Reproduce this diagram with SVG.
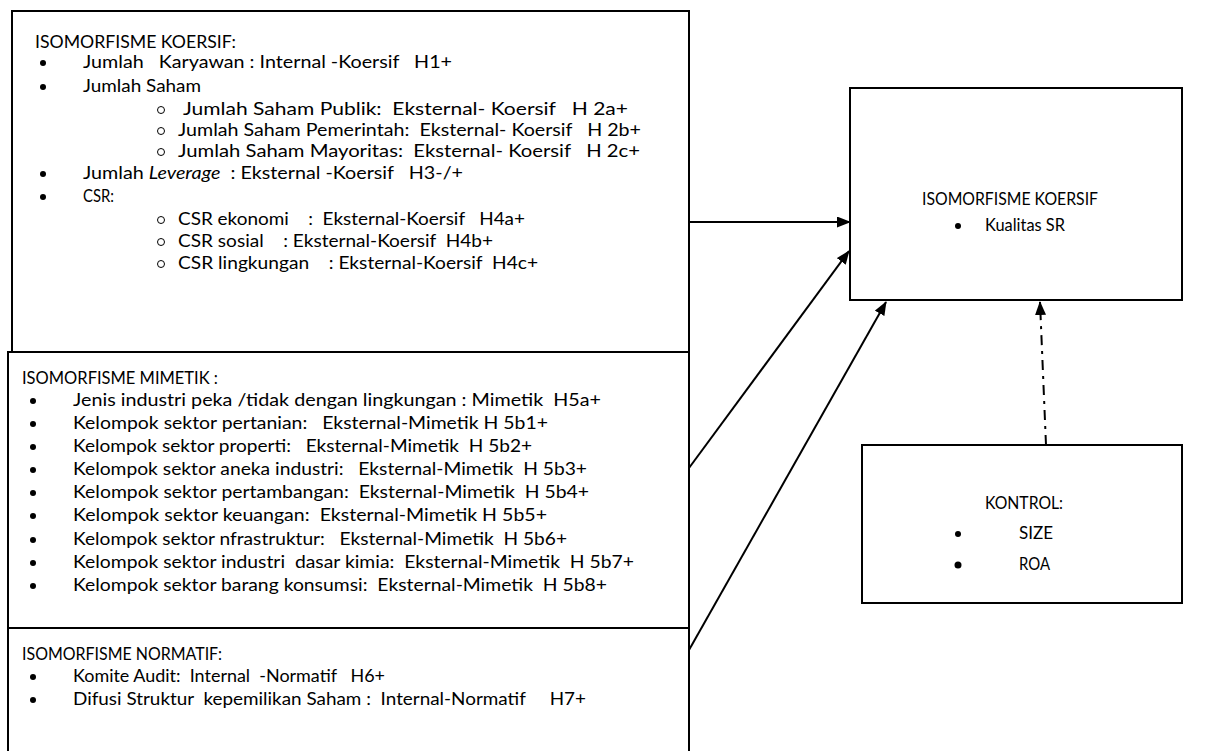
<svg xmlns="http://www.w3.org/2000/svg" width="1208" height="751" viewBox="0 0 1208 751">
<defs>
<style>
.box{fill:#fff;stroke:#000;stroke-width:2}
text{font-family:Lato,"Liberation Sans",sans-serif;font-size:17px;fill:#000;white-space:pre}
.dot{fill:#000}
.ring{fill:none;stroke:#000;stroke-width:1}
.con{stroke:#000;stroke-width:2;fill:none}
</style>
<marker id="ah" viewBox="0 0 14 11" refX="13" refY="5.5" markerWidth="14" markerHeight="11" markerUnits="userSpaceOnUse" orient="auto">
<path d="M0,0 L14,5.5 L0,11 z" fill="#000"/>
</marker>
</defs>
<g id="koersif">
<rect class="box" x="12" y="11" width="677" height="341"/>
<text x="35" y="48" textLength="201" lengthAdjust="spacingAndGlyphs">ISOMORFISME KOERSIF:</text>
<circle class="dot" cx="43" cy="63" r="3"/>
<text x="83" y="68" textLength="369" lengthAdjust="spacingAndGlyphs">Jumlah   Karyawan : Internal -Koersif   H1+</text>
<circle class="dot" cx="43" cy="87" r="3"/>
<text x="83" y="92" textLength="118" lengthAdjust="spacingAndGlyphs">Jumlah Saham</text>
<circle class="ring" cx="161" cy="110" r="3.5"/>
<text x="183" y="115" textLength="445" lengthAdjust="spacingAndGlyphs">Jumlah Saham Publik:  Eksternal- Koersif   H 2a+</text>
<circle class="ring" cx="161" cy="131" r="3.5"/>
<text x="178" y="136" textLength="463" lengthAdjust="spacingAndGlyphs">Jumlah Saham Pemerintah:  Eksternal- Koersif   H 2b+</text>
<circle class="ring" cx="161" cy="152" r="3.5"/>
<text x="178" y="157" textLength="462" lengthAdjust="spacingAndGlyphs">Jumlah Saham Mayoritas:  Eksternal- Koersif   H 2c+</text>
<circle class="dot" cx="43" cy="174" r="3"/>
<text x="83" y="179" textLength="380" lengthAdjust="spacingAndGlyphs">Jumlah <tspan font-style="italic">Leverage</tspan>  : Eksternal -Koersif   H3-/+</text>
<circle class="dot" cx="43" cy="197" r="3"/>
<text x="83" y="202" textLength="31" lengthAdjust="spacingAndGlyphs">CSR:</text>
<circle class="ring" cx="161" cy="220" r="3.5"/>
<text x="178" y="225" textLength="347" lengthAdjust="spacingAndGlyphs">CSR ekonomi    :  Eksternal-Koersif   H4a+</text>
<circle class="ring" cx="161" cy="242" r="3.5"/>
<text x="178" y="247" textLength="315" lengthAdjust="spacingAndGlyphs">CSR sosial    : Eksternal-Koersif  H4b+</text>
<circle class="ring" cx="161" cy="264" r="3.5"/>
<text x="178" y="269" textLength="360" lengthAdjust="spacingAndGlyphs">CSR lingkungan    : Eksternal-Koersif  H4c+</text>
</g>
<g id="mimetik">
<rect class="box" x="8" y="352" width="681" height="276"/>
<text x="22" y="384" textLength="196" lengthAdjust="spacingAndGlyphs">ISOMORFISME MIMETIK :</text>
<circle class="dot" cx="33" cy="401" r="3"/>
<text x="73" y="406" textLength="528" lengthAdjust="spacingAndGlyphs">Jenis industri peka /tidak dengan lingkungan : Mimetik  H5a+</text>
<circle class="dot" cx="33" cy="424" r="3"/>
<text x="73" y="429" textLength="475" lengthAdjust="spacingAndGlyphs">Kelompok sektor pertanian:   Eksternal-Mimetik H 5b1+</text>
<circle class="dot" cx="33" cy="447" r="3"/>
<text x="73" y="452" textLength="459" lengthAdjust="spacingAndGlyphs">Kelompok sektor properti:   Eksternal-Mimetik  H 5b2+</text>
<circle class="dot" cx="33" cy="470" r="3"/>
<text x="73" y="475" textLength="514" lengthAdjust="spacingAndGlyphs">Kelompok sektor aneka industri:   Eksternal-Mimetik  H 5b3+</text>
<circle class="dot" cx="33" cy="493" r="3"/>
<text x="73" y="498" textLength="516" lengthAdjust="spacingAndGlyphs">Kelompok sektor pertambangan:  Eksternal-Mimetik  H 5b4+</text>
<circle class="dot" cx="33" cy="516" r="3"/>
<text x="73" y="521" textLength="474" lengthAdjust="spacingAndGlyphs">Kelompok sektor keuangan:  Eksternal-Mimetik H 5b5+</text>
<circle class="dot" cx="33" cy="540" r="3"/>
<text x="73" y="545" textLength="494" lengthAdjust="spacingAndGlyphs">Kelompok sektor nfrastruktur:   Eksternal-Mimetik  H 5b6+</text>
<circle class="dot" cx="33" cy="563" r="3"/>
<text x="73" y="568" textLength="561" lengthAdjust="spacingAndGlyphs">Kelompok sektor industri  dasar kimia:  Eksternal-Mimetik  H 5b7+</text>
<circle class="dot" cx="33" cy="586" r="3"/>
<text x="73" y="591" textLength="534" lengthAdjust="spacingAndGlyphs">Kelompok sektor barang konsumsi:  Eksternal-Mimetik  H 5b8+</text>
</g>
<g id="normatif">
<rect class="box" x="8" y="628" width="681" height="140"/>
<text x="22" y="660" textLength="200" lengthAdjust="spacingAndGlyphs">ISOMORFISME NORMATIF:</text>
<circle class="dot" cx="33" cy="677" r="3"/>
<text x="73" y="682" textLength="312" lengthAdjust="spacingAndGlyphs">Komite Audit:  Internal  -Normatif   H6+</text>
<circle class="dot" cx="33" cy="700" r="3"/>
<text x="73" y="705" textLength="513" lengthAdjust="spacingAndGlyphs">Difusi Struktur  kepemilikan Saham :  Internal-Normatif     H7+</text>
</g>
<g id="hasil">
<rect class="box" x="850" y="88" width="332" height="212"/>
<text x="922" y="205" textLength="176" lengthAdjust="spacingAndGlyphs">ISOMORFISME KOERSIF</text>
<circle class="dot" cx="958" cy="226" r="3"/>
<text x="985" y="231" textLength="80" lengthAdjust="spacingAndGlyphs">Kualitas SR</text>
</g>
<g id="kontrol">
<rect class="box" x="862" y="445" width="320" height="158"/>
<text x="985" y="509" textLength="78" lengthAdjust="spacingAndGlyphs">KONTROL:</text>
<circle class="dot" cx="958" cy="534" r="3"/>
<text x="1019" y="539" textLength="34" lengthAdjust="spacingAndGlyphs">SIZE</text>
<circle class="dot" cx="958" cy="565" r="3.5"/>
<text x="1019" y="570" textLength="31" lengthAdjust="spacingAndGlyphs">ROA</text>
</g>
<g id="connectors">
<line class="con" x1="689" y1="222" x2="850" y2="222" marker-end="url(#ah)"/>
<line class="con" x1="689" y1="468" x2="849" y2="251" marker-end="url(#ah)"/>
<line class="con" x1="689" y1="650" x2="886" y2="302" marker-end="url(#ah)"/>
<line class="con" x1="1046" y1="445" x2="1040" y2="302" stroke-dasharray="10,6,3,6" marker-end="url(#ah)"/>
</g>
</svg>
